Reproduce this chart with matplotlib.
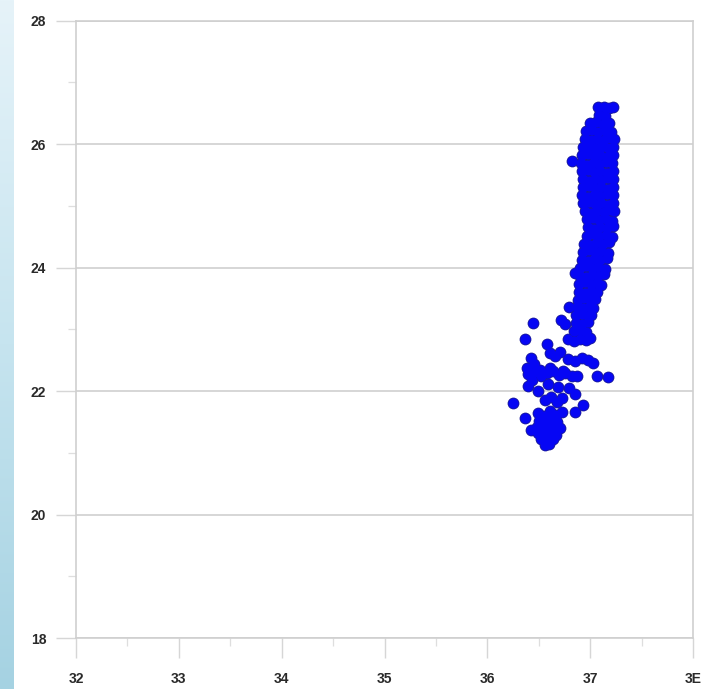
import numpy as np
import matplotlib
matplotlib.use("Agg")
import matplotlib.pyplot as plt
from matplotlib.colors import LinearSegmentedColormap

# salinity / temperature pairs, one line per temperature band
salinity = [
    37.08, 37.13, 37.18, 37.22,
    37.09, 37.14,
    37.00, 37.06, 37.12, 37.18,
    36.96, 37.02, 37.08, 37.14, 37.20,
    36.95, 37.01, 37.07, 37.13, 37.19, 37.23,
    36.93, 36.99, 37.05, 37.11, 37.17, 37.22,
    36.92, 36.98, 37.04, 37.10, 37.16, 37.22,
    36.82,
    36.91, 36.97, 37.03, 37.09, 37.15, 37.21,
    36.92, 36.98, 37.04, 37.10, 37.16, 37.22,
    36.93, 36.99, 37.05, 37.11, 37.17, 37.22,
    36.93, 36.99, 37.05, 37.11, 37.17, 37.22,
    36.92, 36.98, 37.04, 37.10, 37.16, 37.22,
    36.93, 36.99, 37.05, 37.11, 37.17, 37.22,
    36.95, 37.01, 37.07, 37.13, 37.19, 37.23,
    36.97, 37.03, 37.09, 37.15, 37.21,
    36.98, 37.04, 37.10, 37.16, 37.22,
    36.97, 37.03, 37.09, 37.15, 37.21,
    36.94, 37.00, 37.06, 37.12, 37.18,
    36.93, 36.99, 37.05, 37.11, 37.17,
    36.92, 36.98, 37.04, 37.10, 37.16,
    36.90, 36.96, 37.02, 37.08, 37.14,
    36.85,
    36.90, 36.96, 37.02, 37.08, 37.13,
    36.89, 36.95, 37.01, 37.07, 37.11,
    36.89, 36.95, 37.01, 37.07,
    36.88, 36.94, 37.00, 37.05,
    36.79, 36.87, 36.93, 36.99, 37.03,
    36.86, 36.92, 36.98, 37.01,
    36.44, 36.72, 36.76, 36.86, 36.92, 36.98,
    36.84, 36.90, 36.96,
    36.37, 36.78, 36.84, 36.90, 36.96, 37.00,
    36.58,
    36.61, 36.66, 36.71, 36.78, 36.85, 36.92, 36.98, 37.03,
    36.42, 36.45,
    36.39,
    36.51, 36.61, 36.74,
    36.87, 37.07, 37.17,
    36.40, 36.46, 36.52, 36.58, 36.64, 36.70, 36.76, 36.82,
    36.43, 36.40, 36.49, 36.59, 36.69, 36.79, 36.85,
    36.25,
    36.56, 36.62, 36.68, 36.73,
    36.93, 36.85,
    36.49, 36.55, 36.61, 36.67, 36.73,
    36.37,
    36.42,
    36.50, 36.56, 36.62, 36.68,
    36.48, 36.54, 36.60, 36.66, 36.71,
    36.49, 36.55, 36.61, 36.67,
    36.52, 36.58, 36.64,
    36.56, 36.60,
]
temperature = [
    26.60, 26.61, 26.59, 26.60,
    26.47, 26.45,
    26.34, 26.36, 26.33, 26.35,
    26.21, 26.23, 26.20, 26.22, 26.19,
    26.08, 26.06, 26.09, 26.07, 26.10, 26.08,
    25.95, 25.97, 25.94, 25.96, 25.93, 25.95,
    25.82, 25.84, 25.81, 25.83, 25.80, 25.82,
    25.72,
    25.69, 25.67, 25.70, 25.68, 25.71, 25.69,
    25.56, 25.58, 25.55, 25.57, 25.54, 25.56,
    25.43, 25.41, 25.44, 25.42, 25.45, 25.43,
    25.30, 25.32, 25.29, 25.31, 25.28, 25.30,
    25.17, 25.15, 25.18, 25.16, 25.19, 25.17,
    25.04, 25.06, 25.03, 25.05, 25.02, 25.04,
    24.91, 24.89, 24.92, 24.90, 24.93, 24.91,
    24.78, 24.80, 24.77, 24.79, 24.76,
    24.65, 24.63, 24.66, 24.64, 24.67,
    24.52, 24.54, 24.51, 24.53, 24.50,
    24.39, 24.37, 24.40, 24.38, 24.41,
    24.26, 24.28, 24.25, 24.27, 24.24,
    24.13, 24.11, 24.14, 24.12, 24.15,
    24.00, 24.02, 23.99, 24.01, 23.98,
    23.92,
    23.87, 23.85, 23.88, 23.86, 23.89,
    23.74, 23.76, 23.73, 23.75, 23.72,
    23.61, 23.59, 23.62, 23.60,
    23.48, 23.50, 23.47, 23.49,
    23.36, 23.36, 23.34, 23.37, 23.35,
    23.23, 23.25, 23.22, 23.24,
    23.10, 23.15, 23.08, 23.11, 23.09, 23.12,
    22.97, 22.99, 22.96,
    22.85, 22.84, 22.81, 22.85, 22.83, 22.86,
    22.77,
    22.62, 22.57, 22.64, 22.52, 22.48, 22.54, 22.50, 22.46,
    22.53, 22.44,
    22.38,
    22.34, 22.38, 22.33,
    22.25, 22.25, 22.22,
    22.27, 22.31, 22.24, 22.29, 22.33, 22.26, 22.30, 22.24,
    22.18, 22.09, 22.00, 22.12, 22.06, 22.05, 21.96,
    21.80,
    21.85, 21.90, 21.83, 21.88,
    21.77, 21.66,
    21.64, 21.60, 21.68, 21.62, 21.66,
    21.56,
    21.37,
    21.52, 21.49, 21.54, 21.50,
    21.42, 21.44, 21.40, 21.43, 21.41,
    21.32, 21.30, 21.33, 21.29,
    21.22, 21.20, 21.23,
    21.13, 21.15,
]

x_ticks = [32, 33, 34, 35, 36, 37, 38]
x_labels = ["32", "33", "34", "35", "36", "37", "3E"]
y_ticks = [18, 20, 22, 24, 26, 28]

W, H = 722, 689
fig = plt.figure(figsize=(W / 100, H / 100), dpi=100)
fig.patch.set_facecolor("white")

# pale blue strip down the left edge
strip = fig.add_axes([0, 0, 13 / W, 1])
cmap = LinearSegmentedColormap.from_list("strip", ["#e6f3f9", "#c6e4ef", "#a5d2e2"])
strip.imshow(np.linspace(0, 1, 256).reshape(-1, 1), aspect="auto", cmap=cmap)
strip.set_axis_off()

ax = fig.add_axes([76 / W, 51 / H, (693 - 76) / W, (638 - 20.7) / H])
ax.set_xlim(32, 38)
ax.set_ylim(18, 28)

grid_c = "#d6d6d6"
ax.set_yticks(y_ticks)
ax.set_yticks([19, 21, 23, 25, 27], minor=True)
ax.set_xticks(x_ticks)
ax.set_xticks([32.5, 33.5, 34.5, 35.5, 36.5, 37.5], minor=True)
ax.set_xticklabels(x_labels)
ax.grid(axis="y", which="major", color=grid_c, lw=1.4, zorder=0)

ax.tick_params(axis="both", which="major", length=14.5, width=1.0, color=grid_c,
               labelsize=10, labelcolor="#2a2a2a")
ax.tick_params(axis="x", which="major", pad=10)
ax.tick_params(axis="y", which="major", pad=7)
ax.tick_params(axis="both", which="minor", length=6, width=0.9, color="#dedede")

for side in ["left", "bottom", "right", "top"]:
    ax.spines[side].set_color("#cfcfcf")
    ax.spines[side].set_linewidth(1.2)

for lab in ax.get_xticklabels() + ax.get_yticklabels():
    lab.set_family(["Liberation Sans", "DejaVu Sans"])
    lab.set_fontweight("bold")

# dark outline layer underneath, solid blue fill on top
ax.scatter(salinity, temperature, s=72, c="#1a1a9c", linewidths=0, zorder=3)
ax.scatter(salinity, temperature, s=52, c="#0606f4", linewidths=0, zorder=4)

fig.savefig("out.png", dpi=100)
